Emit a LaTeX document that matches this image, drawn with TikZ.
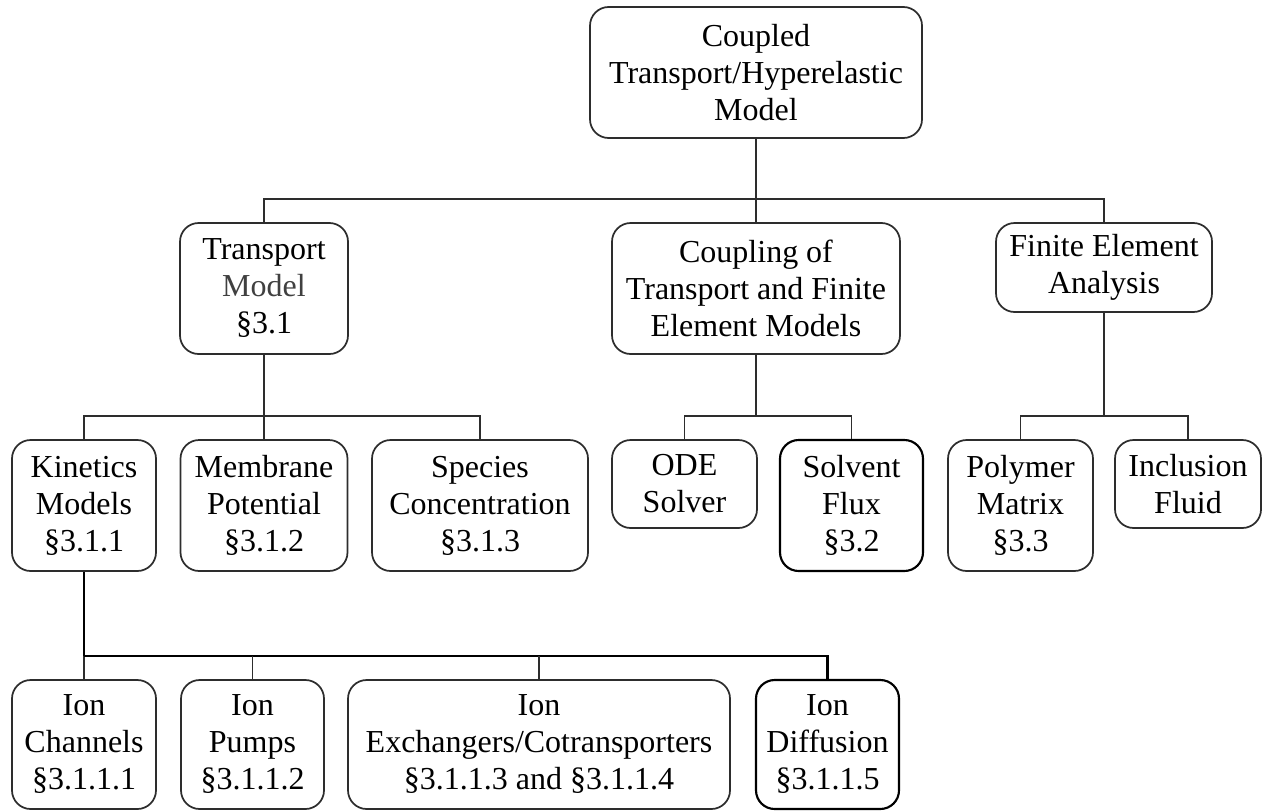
\documentclass[tikz,border=0pt]{standalone}
\usepackage{fontspec}
\setmainfont{Liberation Serif}
\definecolor{edge}{RGB}{45,45,45}
\definecolor{softink}{RGB}{64,64,64}
\begin{document}
\begin{tikzpicture}[x=0.75pt,y=-0.75pt,
  bx/.style 2 args={draw=edge, line width=1.3pt, rounded corners=14pt,
    align=center, inner sep=0pt, font=\fontsize{24}{27.75}\selectfont,
    minimum width=#1*0.75pt, minimum height=#2*0.75pt},
  bxdark/.style={draw=black, line width=1.6pt},
  link/.style={draw=edge, line width=1.3pt},
  mainlink/.style={draw=black, line width=1.8pt}]
\useasboundingbox (0,0) rectangle (1262,810);

% top level
\node[bx={332}{131}] (top) at (756,72.5) {Coupled\\Transport/Hyperelastic\\Model};

% second level
\node[bx={168}{131}] (transport) at (264,288.5) {Transport\\\textcolor{softink}{Model}\\§3.1};
\node[bx={288}{131}] (coupling) at (756,288.5) {Coupling of\\Transport and Finite\\Element Models};
\node[bx={216}{89}] (fea) at (1104,267.5) {Finite Element\\Analysis};

% third level
\node[bx={144}{131}] (kinetics) at (84,505.5) {Kinetics\\Models\\§3.1.1};
\node[bx={167}{131}] (membrane) at (264,505.5) {Membrane\\Potential\\§3.1.2};
\node[bx={216}{131}] (species) at (480,505.5) {Species\\Concentration\\§3.1.3};
\node[bx={145}{88}] (ode) at (684.5,484) {ODE\\Solver};
\node[bx={143}{131}, bxdark] (solvent) at (851.5,505.5) {Solvent\\Flux\\§3.2};
\node[bx={145}{131}] (polymer) at (1020.5,505.5) {Polymer\\Matrix\\§3.3};
\node[bx={146}{88}] (inclusion) at (1188,484) {Inclusion\\Fluid};

% fourth level
\node[bx={144}{129}] (channels) at (84,744.5) {Ion\\Channels\\§3.1.1.1};
\node[bx={143}{129}] (pumps) at (252.5,744.5) {Ion\\Pumps\\§3.1.1.2};
\node[bx={382}{129}] (exchangers) at (539,744.5) {Ion\\Exchangers/Cotransporters\\§3.1.1.3 and §3.1.1.4};
\node[bx={143}{129}, bxdark] (diffusion) at (827.5,744.5) {Ion\\Diffusion\\§3.1.1.5};

% junction points of the buses
\coordinate (j1) at (756,199);
\coordinate (j2) at (264,416);
\coordinate (j3) at (756,416);
\coordinate (j4) at (1104,416);
\coordinate (j5) at (84,656);

% top bus
\draw[link] (top.south) -- (j1);
\draw[link] (transport.north) |- (j1) -| (fea.north);
\draw[link] (j1) -- (coupling.north);

% transport bus
\draw[link] (transport.south) -- (membrane.north);
\draw[link] (kinetics.north) |- (j2) -| (species.north);

% coupling bus
\draw[link] (coupling.south) -- (j3);
\draw[link] (ode.north) |- (j3) -| (solvent.north);

% finite element bus
\draw[link] (fea.south) -- (j4);
\draw[link] (polymer.north) |- (j4) -| (inclusion.north);

% kinetics bus
\draw[mainlink] (kinetics.south) -- (j5);
\draw[link] (j5) -- (channels.north);
\draw[mainlink] (j5) -| (diffusion.north);
\draw[link] (pumps.north) -- (pumps.north |- j5);
\draw[link] (exchangers.north) -- (exchangers.north |- j5);
\end{tikzpicture}
\end{document}
